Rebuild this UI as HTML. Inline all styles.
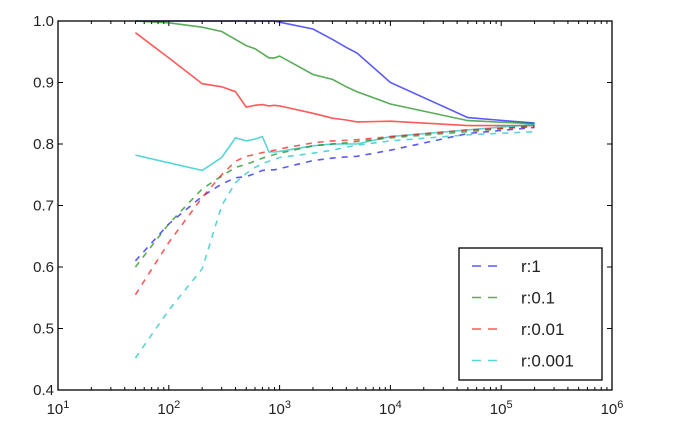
<!DOCTYPE html>
<html><head><meta charset="utf-8"><style>
html,body{margin:0;padding:0;background:#fff;width:676px;height:430px;overflow:hidden}
text{font-family:"Liberation Sans",sans-serif;fill:#222}
</style></head><body>
<svg id="chart" width="676" height="430" xmlns="http://www.w3.org/2000/svg"></svg>
<script>
const xs = [50,100,200,300,400,500,600,700,800,900,1000,2000,3000,4000,5000,10000,50000,200000];
const trainR1 = [1.0,1.0,1.0,1.0,1.0,1.0,1.0,1.0,1.0,1.0,0.998,0.987,0.97,0.957,0.948,0.90,0.843,0.834];
const trainR01 = [1.0,0.997,0.99,0.983,0.97,0.96,0.955,0.947,0.94,0.94,0.943,0.913,0.905,0.893,0.885,0.865,0.838,0.833];
const trainR001 = [0.981,0.94,0.898,0.893,0.885,0.86,0.863,0.864,0.862,0.863,0.862,0.85,0.842,0.839,0.836,0.837,0.83,0.83];
const trainR0001 = [0.782,0.7695,0.757,0.778,0.81,0.805,0.808,0.812,0.787,0.787,0.788,0.797,0.8,0.8,0.8,0.812,0.823,0.832];
const testR1 = [0.61,0.67,0.715,0.735,0.745,0.747,0.752,0.757,0.758,0.758,0.76,0.773,0.777,0.779,0.78,0.79,0.817,0.827];
const testR01 = [0.6,0.67,0.727,0.748,0.762,0.767,0.772,0.777,0.78,0.783,0.785,0.797,0.8,0.802,0.804,0.81,0.82,0.83];
const testR001 = [0.555,0.64,0.713,0.75,0.772,0.78,0.783,0.786,0.788,0.79,0.792,0.802,0.805,0.806,0.807,0.812,0.823,0.828];
const testR0001 = [0.452,0.53,0.597,0.7,0.737,0.752,0.762,0.768,0.772,0.775,0.778,0.785,0.79,0.795,0.798,0.805,0.815,0.82];
const yTicks = [0.4,0.5,0.6,0.7,0.8,0.9,1.0];
const xDecades = [1,2,3,4,5,6];
const legendLabels = ["r:1","r:0.1","r:0.01","r:0.001"];

const L=58,R=612,T=21,B=390;
const NS="http://www.w3.org/2000/svg";
const svg=document.getElementById('chart');
function X(v){return L+(Math.log10(v)-1)/5*(R-L);}
function Y(v){return B-(v-0.4)/0.6*(B-T);}
function mk(tag,attrs,parent){const e=document.createElementNS(NS,tag);for(const k in attrs)e.setAttribute(k,attrs[k]);(parent||svg).appendChild(e);return e;}

const ticks=mk('g',{});


yTicks.forEach(t=>{
  const y=Y(t);
  mk('line',{x1:L,x2:L+5,y1:y,y2:y,stroke:'#000','stroke-width':1},ticks);
  mk('line',{x1:R,x2:R-5,y1:y,y2:y,stroke:'#000','stroke-width':1},ticks);
  const tx=mk('text',{x:L-4,y:y+5,'text-anchor':'end','font-size':15},ticks);
  tx.textContent=t.toFixed(1);
  
  
});
xDecades.forEach(d=>{
  const x=X(Math.pow(10,d));
  mk('line',{x1:x,x2:x,y1:B,y2:B-5,stroke:'#000'},ticks);
  mk('line',{x1:x,x2:x,y1:T,y2:T+5,stroke:'#000'},ticks);
  if(d<6){for(let m=2;m<10;m++){const xm=X(m*Math.pow(10,d));
    mk('line',{x1:xm,x2:xm,y1:B,y2:B-3,stroke:'#000'},ticks);
    mk('line',{x1:xm,x2:xm,y1:T,y2:T+3,stroke:'#000'},ticks);}}
  const tx=mk('text',{x:x,y:B+24,'text-anchor':'middle','font-size':15},ticks);
  tx.innerHTML='10<tspan dy="-6" font-size="11">'+d+'</tspan>';
  
  
});

const series=[
 [trainR1,'#0000ff',false,'train-line-r1'],
 [trainR01,'#008000',false,'train-line-r0.1'],
 [trainR001,'#ff0000',false,'train-line-r0.01'],
 [trainR0001,'#00bfbf',false,'train-line-r0.001'],
 [testR1,'#0000ff',true,'test-line-r1'],
 [testR01,'#008000',true,'test-line-r0.1'],
 [testR001,'#ff0000',true,'test-line-r0.01'],
 [testR0001,'#00bfbf',true,'test-line-r0.001']];
series.forEach(s=>{
  const pts=s[0].map((v,i)=>X(xs[i]).toFixed(1)+','+Y(v).toFixed(1)).join(' ');
  const p=mk('polyline',{points:pts,fill:'none',stroke:s[1],'stroke-opacity':0.65,'stroke-width':1.6});
  if(s[2])p.setAttribute('stroke-dasharray','6,6');
  
  
});

const frame=mk('rect',{x:L,y:T,width:R-L,height:B-T,fill:'none',stroke:'#000','stroke-width':1.3});



const lg=mk('g',{});


mk('rect',{x:459,y:248,width:143,height:132,fill:'#fff',stroke:'#000','stroke-width':1.3},lg);
const lcol=['#0000ff','#008000','#ff0000','#00bfbf'];
legendLabels.forEach((lab,i)=>{
  const y=266+i*31.5;
  const g=mk('g',{},lg);
  
  
  mk('line',{x1:472,x2:502,y1:y,y2:y,stroke:lcol[i],'stroke-opacity':0.65,'stroke-width':1.6,'stroke-dasharray':'9,7'},g);
  const t=mk('text',{x:521,y:y+6,'font-size':17},g);
  t.textContent=lab;
});
</script>
</body></html>
